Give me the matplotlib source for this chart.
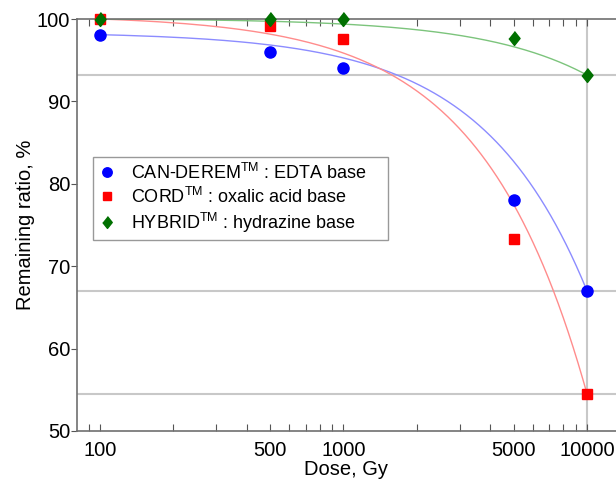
import matplotlib
matplotlib.use("Agg")
import matplotlib.pyplot as plt
import numpy as np
from matplotlib.ticker import FixedLocator, FixedFormatter, NullFormatter, LogLocator

plt.rcParams["font.family"] = ["Liberation Sans", "DejaVu Sans"]
plt.rcParams["mathtext.fontset"] = "custom"
plt.rcParams["mathtext.rm"] = "Liberation Sans"

# measured doses
dose = [100, 500, 1000, 5000, 10000]

# remaining ratio (%) per decontamination agent
can_derem = [98.1, 96.0, 94.0, 78.0, 67.0]
cord = [100.0, 99.1, 97.6, 73.3, 54.5]
hybrid = [100.0, 100.0, 100.0, 97.7, 93.2]

labels = [
    r"CAN-DEREM$^{\mathrm{TM}}$ : EDTA base",
    r"CORD$^{\mathrm{TM}}$ : oxalic acid base",
    r"HYBRID$^{\mathrm{TM}}$ : hydrazine base",
]
tick_vals = [100, 500, 1000, 5000, 10000]

diamond = [(0, 1), (0.8, 0), (0, -1), (-0.8, 0)]
series = [
    (can_derem, "#0000ff", "#8c8cff", "o", 8),
    (cord, "#ff0000", "#ff8c8c", "s", 6.5),
    (hybrid, "#007000", "#7cc47c", diamond, 10),
]

fig = plt.figure(figsize=(6.16, 4.8), dpi=100)
ax = fig.add_axes([77 / 616, 49 / 480, 1 - 77 / 616, 412 / 480])

# reference lines through the 10000 Gy results
for s in series:
    ax.axhline(s[0][-1], color="#c8c8c8", lw=1.5, zorder=1)
ax.axvline(dose[-1], color="#c8c8c8", lw=1.5, zorder=1)

# linear trend (in dose) through first and last point, drawn on log axis
xs = np.linspace(dose[0], dose[-1], 400)
for vals, col, lcol, mk, ms in series:
    b = (vals[-1] - vals[0]) / (dose[-1] - dose[0])
    ax.plot(xs, vals[0] + b * (xs - dose[0]), color=lcol, lw=1.0, zorder=2)

handles = []
for (vals, col, lcol, mk, ms), lab in zip(series, labels):
    h, = ax.plot(dose, vals, ls="none", marker=mk, ms=ms, color=col,
                 mec=col, label=lab, zorder=3, clip_on=False)
    handles.append(h)

ax.set_xscale("log")
ax.set_xlim(80.5, 13150)
ax.set_ylim(50, 100)
ax.xaxis.set_major_locator(FixedLocator(tick_vals))
ax.xaxis.set_major_formatter(FixedFormatter([str(t) for t in tick_vals]))
ax.xaxis.set_minor_locator(LogLocator(base=10, subs=np.arange(2, 10)))
ax.xaxis.set_minor_formatter(NullFormatter())
ax.set_yticks([50, 60, 70, 80, 90, 100])

ax.tick_params(axis="x", which="both", direction="in", top=True, bottom=True,
               length=5, width=0.8, color="#555555", labelsize=14.5, pad=7)
ax.tick_params(axis="y", which="major", direction="out", length=4,
               width=0.8, color="#555555", labelsize=14.5, pad=1)

for side in ["left", "bottom", "top"]:
    ax.spines[side].set_color("#707070")
    ax.spines[side].set_linewidth(1.2)
ax.spines["right"].set_visible(False)

ax.set_xlabel("Dose, Gy", fontsize=14.5, labelpad=0)
ax.set_ylabel("Remaining ratio, %", fontsize=14.5, labelpad=1)

# legend box spans x 93..388 px, y 157..241 px in the figure
leg = ax.legend(handles=handles, loc="upper left", mode="expand",
                bbox_to_anchor=((93 - 77) / 539, (431 - 157) / 412,
                                (388 - 93) / 539, 0.0),
                fontsize=13, frameon=True, fancybox=False, edgecolor="#808080",
                markerscale=0.85, handlelength=1.0, handletextpad=0.8,
                borderpad=0.3, labelspacing=0.22, borderaxespad=0)
leg.get_frame().set_linewidth(1.0)

fig.savefig("out.png", dpi=100)
